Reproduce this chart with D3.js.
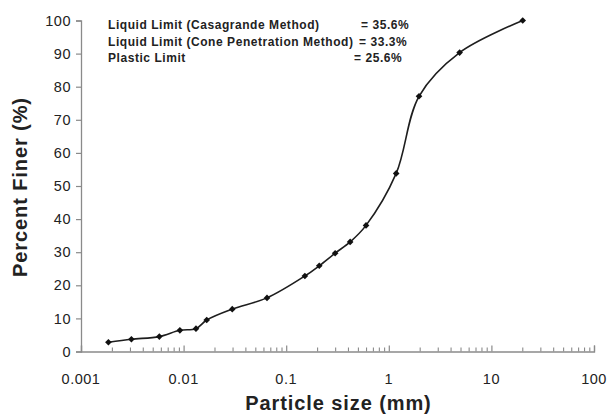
<!DOCTYPE html>
<html>
<head>
<meta charset="utf-8">
<script src="https://cdn.jsdelivr.net/npm/d3@7"></script>
<style>
  html, body { margin: 0; padding: 0; background: #fff; }
  svg { display: block; font-family: "Liberation Sans", Arial, sans-serif; }
</style>
</head>
<body>
<svg id="chart" width="609" height="416"></svg>
<script>
// Data
const particleSize = [0.00185, 0.0031, 0.0058, 0.0092, 0.0132, 0.0168, 0.0298, 0.065, 0.152, 0.21, 0.3, 0.42, 0.6, 1.18, 1.97, 4.9, 20.2];
const percentFiner = [2.8, 3.7, 4.5, 6.4, 6.9, 9.5, 12.8, 16.2, 22.8, 25.9, 29.7, 33.1, 38.1, 53.8, 77.1, 90.3, 100];
const xTickValues = [0.001, 0.01, 0.1, 1, 10, 100];
const xTickLabels = ["0.001", "0.01", "0.1", "1", "10", "100"];
const yTickValues = [0, 10, 20, 30, 40, 50, 60, 70, 80, 90, 100];
const annotationLabels = ["Liquid Limit (Casagrande Method)", "Liquid Limit (Cone Penetration Method)", "Plastic Limit"];
const annotationValues = ["= 35.6%", "= 33.3%", "= 25.6%"];
const xTitle = "Particle size (mm)";
const yTitle = "Percent Finer (%)";

const svg = d3.select("#chart");
const m = { left: 81, right: 15, top: 20.5, bottom: 64.5 };
const W = 609, H = 416;

const x = d3.scaleLog().domain([0.001, 100]).range([m.left, W - m.right]);
const y = d3.scaleLinear().domain([0, 100]).range([H - m.bottom, m.top]);

const axisColor = "#8a8a8a";
const textColor = "#222";

// Y axis
const yAxis = svg.append("g")
  .attr("transform", `translate(${m.left},0)`)
  .call(d3.axisLeft(y).tickValues(yTickValues).tickSize(5).tickPadding(6).tickFormat(d3.format("d")));
yAxis.select(".domain").attr("stroke", axisColor).attr("stroke-width", 1.3);
yAxis.selectAll(".tick line").attr("stroke", axisColor).attr("stroke-width", 1.2);
yAxis.selectAll(".tick text")
  .attr("fill", textColor)
  .style("font-size", "14.5px")
  .style("letter-spacing", "0.5px")
  .attr("dx", "1px");

// X axis: minor ticks point upward (inside)
const minorTicks = [];
for (let e = -3; e < 2; e++) {
  for (let k = 1; k <= 9; k++) minorTicks.push(k * Math.pow(10, e));
}
minorTicks.push(100);

const xAxisMinor = svg.append("g")
  .attr("transform", `translate(0,${H - m.bottom})`)
  .call(d3.axisTop(x).tickValues(minorTicks.filter(v => !xTickValues.includes(v))).tickSize(4).tickFormat(""));
xAxisMinor.select(".domain").remove();
xAxisMinor.selectAll(".tick line").attr("stroke", axisColor).attr("stroke-width", 1.1);

const xAxisMajor = svg.append("g")
  .attr("transform", `translate(0,${H - m.bottom})`)
  .call(d3.axisTop(x).tickValues(xTickValues).tickSize(6).tickFormat(""));
xAxisMajor.select(".domain").attr("stroke", axisColor).attr("stroke-width", 1.3);
xAxisMajor.selectAll(".tick line").attr("stroke", axisColor).attr("stroke-width", 1.2);

// X tick labels below the axis
svg.append("g").selectAll("text")
  .data(xTickValues)
  .join("text")
  .attr("x", d => x(d))
  .attr("y", H - m.bottom + 32)
  .attr("text-anchor", "middle")
  .attr("fill", textColor)
  .style("font-size", "14.5px")
  .style("letter-spacing", "0.5px")
  .text((d, i) => xTickLabels[i]);

// Axis titles
svg.append("text")
  .attr("x", (m.left + W - m.right) / 2 + 1)
  .attr("y", 410)
  .attr("text-anchor", "middle")
  .attr("fill", textColor)
  .style("font-size", "20px")
  .style("font-weight", "bold")
  .style("letter-spacing", "0.9px")
  .text(xTitle);

svg.append("text")
  .attr("transform", `translate(27,${(m.top + H - m.bottom) / 2 + 1}) rotate(-90)`)
  .attr("text-anchor", "middle")
  .attr("fill", textColor)
  .style("font-size", "20px")
  .style("font-weight", "bold")
  .style("letter-spacing", "0.9px")
  .text(yTitle);

// Curve
const pts = particleSize.map((d, i) => [x(d), y(percentFiner[i])]);
svg.append("path")
  .datum(pts)
  .attr("fill", "none")
  .attr("stroke", "#1e1e1e")
  .attr("stroke-width", 1.6)
  .attr("d", d3.line().curve(d3.curveCatmullRom.alpha(0.5)));

// Markers (square diamonds)
svg.append("g").selectAll("path")
  .data(pts)
  .join("path")
  .attr("transform", d => `translate(${d[0]},${d[1]}) rotate(45)`)
  .attr("d", d3.symbol().type(d3.symbolSquare).size(22))
  .attr("fill", "#111");

// Annotations
const annStartX = [361, 359, 354];
const annBase = [28.5, 45.5, 62.3];
annotationLabels.forEach((t, i) => {
  svg.append("text")
    .attr("x", 108)
    .attr("y", annBase[i])
    .attr("fill", textColor)
    .style("font-size", "12px")
    .style("font-weight", "bold")
    .style("letter-spacing", "0.55px")
    .text(t);
  svg.append("text")
    .attr("x", annStartX[i])
    .attr("y", annBase[i])
    .attr("fill", textColor)
    .style("font-size", "12px")
    .style("font-weight", "bold")
    .style("letter-spacing", "0.55px")
    .text(annotationValues[i]);
});
</script>
</body>
</html>
